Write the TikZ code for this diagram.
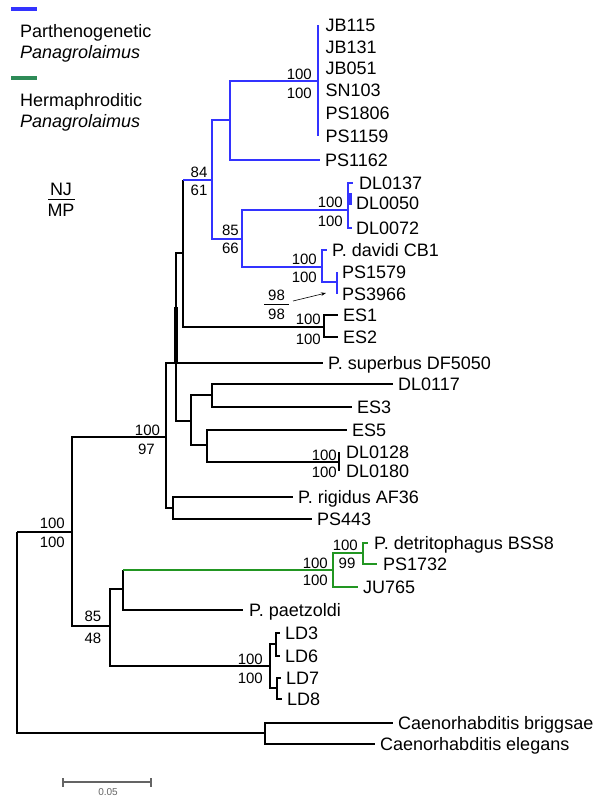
\documentclass[tikz,border=0pt]{standalone}
\usepackage{fontspec}
\setmainfont{Liberation Sans}
\usetikzlibrary{arrows.meta}
\definecolor{pblue}{RGB}{51,51,255}
\definecolor{hgreen}{RGB}{34,150,34}
\definecolor{lgreen}{RGB}{46,139,87}
\definecolor{sbgrey}{RGB}{100,100,100}
\begin{document}
\begin{tikzpicture}[x=1pt,y=-1pt,
  br/.style={line width=1.7pt},
  par/.style={br,draw=pblue},
  her/.style={br,draw=hgreen},
  leaf/.style={anchor=west,inner sep=0pt,text height=12.9pt,text depth=0pt,font=\fontsize{18}{20}\selectfont},
  num/.style={inner sep=0pt,text height=10.7pt,text depth=0pt,font=\fontsize{15}{17}\selectfont},
  numr/.style={num,anchor=east},
  legbar/.style={line width=4pt}]
\useasboundingbox (0,0) rectangle (600,800);

% ---------- legend ----------
\coordinate (lb1) at (11,9); \coordinate (lb2) at (37,9);
\coordinate (lg1) at (11,78); \coordinate (lg2) at (37,78);
\draw[legbar,draw=pblue] (lb1) -- (lb2);
\draw[legbar,draw=lgreen] (lg1) -- (lg2);
\node[leaf] (legP) at (20,31) {Parthenogenetic};
\node[leaf] (legP2) at (20,52) {\itshape Panagrolaimus};
\node[leaf] (legH) at (20,100) {Hermaphroditic};
\node[leaf] (legH2) at (20,121) {\itshape Panagrolaimus};
\node[leaf,anchor=center] (nj) at (61,189) {NJ};
\node[leaf,anchor=center] (mp) at (61,210) {MP};
\coordinate (nj1) at (48,199); \coordinate (nj2) at (75,199);
\draw[line width=0.9pt] (nj1) -- (nj2);

% ---------- coordinates ----------
\coordinate (r) at (17,532);
\coordinate (A) at (72,532);
\coordinate (B) at (166,437);
\coordinate (R) at (176,363);
\coordinate (Rt1) at (176,307);
\coordinate (Rt2) at (176,362);
\coordinate (Q) at (183,253);
\coordinate (P) at (212,180);
\coordinate (P1) at (230,120);
\coordinate (J) at (318,81);
\coordinate (tJB115) at (318,25);
\coordinate (tJB131) at (318,47);
\coordinate (tJB051) at (318,68.5);
\coordinate (tSN103) at (318,90.5);
\coordinate (tPS1806) at (318,113);
\coordinate (tPS1159) at (318,136);
\coordinate (tPS1162) at (320,160);
\coordinate (P2) at (242,239);
\coordinate (D1) at (348,210);
\coordinate (tDL0137) at (353,183);
\coordinate (tDL0050) at (350,203);
\coordinate (tDL0072) at (352,228);
\coordinate (dlk1) at (350,193);
\coordinate (dlk2) at (350,205);
\coordinate (DV) at (322,267);
\coordinate (tdav) at (327,250);
\coordinate (PP) at (337,282);
\coordinate (tPS1579) at (337,272);
\coordinate (tPS3966) at (337,294);
\coordinate (E) at (324,327);
\coordinate (tES1) at (338,315);
\coordinate (tES2) at (338,337);
\coordinate (tsup) at (323,363);
\coordinate (S) at (191,421);
\coordinate (S1) at (212,395);
\coordinate (tDL0117) at (393,384);
\coordinate (tES3) at (352,407);
\coordinate (S2) at (207,445);
\coordinate (tES5) at (347,430);
\coordinate (DLn) at (339,462);
\coordinate (tDL0128) at (339,452);
\coordinate (tDL0180) at (339,471);
\coordinate (RP) at (173,508);
\coordinate (trig) at (293,497);
\coordinate (tPS443) at (312,519);
\coordinate (C) at (110,626);
\coordinate (D) at (123,589);
\coordinate (G) at (333,570);
\coordinate (G2) at (363,553);
\coordinate (tdet) at (368,543);
\coordinate (tPS1732) at (377,564);
\coordinate (tJU765) at (358,587);
\coordinate (tpae) at (243,610);
\coordinate (LD) at (270,666);
\coordinate (L1) at (276,644);
\coordinate (tLD3) at (280,633);
\coordinate (tLD6) at (280,656);
\coordinate (L2) at (277,688);
\coordinate (tLD7) at (281,678);
\coordinate (tLD8) at (282,699);
\coordinate (Cae) at (265,733);
\coordinate (tbri) at (393,723);
\coordinate (tele) at (375,744);

% ---------- black branches ----------
\draw[br] (r) |- (A);
\draw[br] (r) |- (Cae);
\draw[br] (Cae) |- (tbri);
\draw[br] (Cae) |- (tele);
\draw[br] (A) |- (B);
\draw[br] (A) |- (C);
\draw[br] (B) |- (R);
\draw[br] (B) |- (RP);
\draw[br] (R) |- (Q);
\draw[br] (R) |- (tsup);
\draw[br] (R) |- (S);
\draw[line width=3.4pt] (Rt1) -- (Rt2);
\draw[br] (Q) -- (Q|-P);
\draw[br] (Q) |- (E);
\draw[br] (E) |- (tES1);
\draw[br] (E) |- (tES2);
\draw[br] (S) |- (S1);
\draw[br] (S) |- (S2);
\draw[br] (S1) |- (tDL0117);
\draw[br] (S1) |- (tES3);
\draw[br] (S2) |- (tES5);
\draw[br] (S2) |- (DLn);
\draw[br] (DLn) |- (tDL0128);
\draw[br] (DLn) |- (tDL0180);
\draw[br] (RP) |- (trig);
\draw[br] (RP) |- (tPS443);
\draw[br] (C) |- (D);
\draw[br] (C) |- (LD);
\draw[br] (D) -- (D|-G);
\draw[br] (D) |- (tpae);
\draw[br] (LD) |- (L1);
\draw[br] (LD) |- (L2);
\draw[br] (L1) |- (tLD3);
\draw[br] (L1) |- (tLD6);
\draw[br] (L2) |- (tLD7);
\draw[br] (L2) |- (tLD8);

% ---------- blue branches ----------
\draw[par] (Q|-P) -- (P);
\draw[par] (P) |- (P1);
\draw[par] (P) |- (P2);
\draw[par] (P1) |- (J);
\draw[par] (P1) |- (tPS1162);
\draw[par] (J) |- (tJB115);
\draw[par] (J) |- (tPS1159);
\draw[par] (P2) |- (D1);
\draw[par] (P2) |- (DV);
\draw[par] (D1) |- (tDL0137);
\draw[par] (D1) |- (tDL0050);
\draw[par] (D1) |- (tDL0072);
\draw[line width=3pt,draw=pblue] (dlk1) -- (dlk2);
\draw[par] (DV) |- (tdav);
\draw[par] (DV) |- (PP);
\draw[par] (PP) |- (tPS1579);
\draw[par] (PP) |- (tPS3966);

% ---------- green branches ----------
\draw[her] (D|-G) -- (G);
\draw[her] (G) |- (G2);
\draw[her] (G) |- (tJU765);
\draw[her] (G2) |- (tdet);
\draw[her] (G2) |- (tPS1732);

% ---------- leaf labels ----------
\node[leaf] (lJB115) at ([xshift=7.5pt]tJB115) {JB115};
\node[leaf] (lJB131) at ([xshift=7.5pt]tJB131) {JB131};
\node[leaf] (lJB051) at ([xshift=7.5pt]tJB051) {JB051};
\node[leaf] (lSN103) at ([xshift=7.5pt]tSN103) {SN103};
\node[leaf] (lPS1806) at ([xshift=7.5pt]tPS1806) {PS1806};
\node[leaf] (lPS1159) at ([xshift=7.5pt]tPS1159) {PS1159};
\node[leaf] (lPS1162) at ([xshift=5pt]tPS1162) {PS1162};
\node[leaf] (lDL0137) at ([xshift=6pt]tDL0137) {DL0137};
\node[leaf] (lDL0050) at ([xshift=6pt]tDL0050) {DL0050};
\node[leaf] (lDL0072) at ([xshift=4pt]tDL0072) {DL0072};
\node[leaf] (ldav) at ([xshift=5pt]tdav) {P. davidi CB1};
\node[leaf] (lPS1579) at ([xshift=5pt]tPS1579) {PS1579};
\node[leaf] (lPS3966) at ([xshift=5pt]tPS3966) {PS3966};
\node[leaf] (lES1) at ([xshift=5pt]tES1) {ES1};
\node[leaf] (lES2) at ([xshift=5pt]tES2) {ES2};
\node[leaf] (lsup) at ([xshift=5pt]tsup) {P. superbus DF5050};
\node[leaf] (lDL0117) at ([xshift=5pt]tDL0117) {DL0117};
\node[leaf] (lES3) at ([xshift=5pt]tES3) {ES3};
\node[leaf] (lES5) at ([xshift=5pt]tES5) {ES5};
\node[leaf] (lDL0128) at ([xshift=7pt]tDL0128) {DL0128};
\node[leaf] (lDL0180) at ([xshift=7pt]tDL0180) {DL0180};
\node[leaf] (lrig) at ([xshift=5pt]trig) {P. rigidus AF36};
\node[leaf] (lPS443) at ([xshift=5pt]tPS443) {PS443};
\node[leaf] (ldet) at ([xshift=6pt]tdet) {P. detritophagus BSS8};
\node[leaf] (lPS1732) at ([xshift=6pt]tPS1732) {PS1732};
\node[leaf] (lJU765) at ([xshift=5pt]tJU765) {JU765};
\node[leaf] (lpae) at ([xshift=6pt]tpae) {P. paetzoldi};
\node[leaf] (lLD3) at ([xshift=5pt]tLD3) {LD3};
\node[leaf] (lLD6) at ([xshift=5pt]tLD6) {LD6};
\node[leaf] (lLD7) at ([xshift=5pt]tLD7) {LD7};
\node[leaf] (lLD8) at ([xshift=5pt]tLD8) {LD8};
\node[leaf] (lbri) at ([xshift=5pt]tbri) {Caenorhabditis briggsae};
\node[leaf] (lele) at ([xshift=5pt]tele) {Caenorhabditis elegans};

% ---------- support values ----------
\node[numr] (bJa) at (312,74) {100};
\node[numr] (bJb) at (312,93) {100};
\node[num] (bPa) at (199,172) {84};
\node[num] (bPb) at (199,190) {61};
\node[numr] (bP2a) at (239,230) {85};
\node[numr] (bP2b) at (239,248) {66};
\node[numr] (bD1a) at (343,202) {100};
\node[numr] (bD1b) at (343,221) {100};
\node[numr] (bDVa) at (317,259) {100};
\node[numr] (bDVb) at (317,277) {100};
\node[num] (b98a) at (276.5,295) {98};
\node[num] (b98b) at (276.5,314) {98};
\coordinate (b98l) at (264,304); \coordinate (b98r) at (289,304);
\draw[line width=0.7pt] (b98l) -- (b98r);
\coordinate (arS) at (293,301); \coordinate (arE) at (326,293);
\draw[line width=0.6pt,-{Stealth[length=5pt,width=3.5pt]}] (arS) -- (arE);
\node[numr] (bEa) at (321,319) {100};
\node[numr] (bEb) at (321,339) {100};
\node[num] (bBa) at (147.5,430) {100};
\node[num] (bBb) at (146.5,449) {97};
\node[numr] (bDLa) at (337,455) {100};
\node[numr] (bDLb) at (337,472) {100};
\node[numr] (bAa) at (65,523) {100};
\node[numr] (bAb) at (65,542) {100};
\node[numr] (bG2) at (358,545) {100};
\node[num] (b99) at (347,563) {99};
\node[numr] (bGa) at (328,563) {100};
\node[numr] (bGb) at (328,580) {100};
\node[num] (bCa) at (93,616) {85};
\node[num] (bCb) at (93,638) {48};
\node[numr] (bLDa) at (263,659) {100};
\node[numr] (bLDb) at (263,678) {100};

% ---------- scale bar ----------
\coordinate (sb1) at (63,782); \coordinate (sb2) at (151,782);
\draw[line width=1.3pt,draw=sbgrey] (sb1) -- (sb2);
\draw[line width=1.1pt,draw=sbgrey] ([yshift=-4.5pt]sb1) -- ([yshift=4.5pt]sb1);
\draw[line width=1.1pt,draw=sbgrey] ([yshift=-4.5pt]sb2) -- ([yshift=4.5pt]sb2);
\node[inner sep=0pt,font=\fontsize{10}{12}\selectfont,text=sbgrey] (sbl) at (108,792) {0.05};
\end{tikzpicture}
\end{document}
